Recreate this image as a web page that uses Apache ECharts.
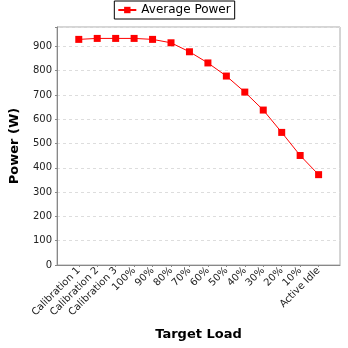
<!DOCTYPE html>
<html>
<head>
<meta charset="utf-8">
<script src="https://cdn.jsdelivr.net/npm/echarts@6/dist/echarts.min.js"></script>
<style>
  html, body { margin: 0; padding: 0; background: #fff; }
  #main { width: 348px; height: 348px; }
</style>
</head>
<body>
<div id="main"></div>
<script>
// target load steps, in the order they run
var categories = ['Calibration 1', 'Calibration 2', 'Calibration 3', '100%', '90%', '80%',
    '70%', '60%', '50%', '40%', '30%', '20%', '10%', 'Active Idle'];
var avgPower = [929, 933, 933, 933, 929, 915, 878, 832, 778, 712, 638, 546, 451, 372];
var yTicks = [0, 100, 200, 300, 400, 500, 600, 700, 800, 900];

var idx = categories.map(function (c, i) { return i; });

var myChart = echarts.init(document.getElementById('main'));

var option = {
    animation: false,
    textStyle: { fontFamily: 'DejaVu Sans' },
    legend: {
        top: 1,
        left: 'center',
        padding: [3, 4, 3, 3],
        borderColor: '#000',
        borderWidth: 1,
        itemWidth: 18,
        itemHeight: 8,
        itemGap: 4,
        textStyle: { fontSize: 12, color: '#000', fontFamily: 'DejaVu Sans' },
        data: ['Average Power']
    },
    grid: {
        left: 53, right: 8, top: 27, bottom: 83,
        show: true, borderColor: '#aaa', borderWidth: 1
    },
    xAxis: {
        type: 'value',
        min: -1.18,
        max: 14.16,
        name: 'Target Load',
        nameLocation: 'middle',
        nameGap: 63,
        nameTextStyle: { fontSize: 13, fontWeight: 'bold', color: '#000' },
        splitLine: { show: false },
        axisLine: { onZero: false, lineStyle: { color: '#888' } },
        axisTick: { customValues: idx, length: 2, lineStyle: { color: '#888' } },
        axisLabel: {
            customValues: idx,
            rotate: 45,
            fontSize: 10,
            color: '#222',
            margin: 4,
            formatter: function (v) { return categories[Math.round(v)]; }
        }
    },
    yAxis: {
        type: 'value',
        min: 0,
        max: 980,
        interval: 100,
        name: 'Power (W)',
        nameLocation: 'middle',
        nameGap: 36,
        nameTextStyle: { fontSize: 13, fontWeight: 'bold', color: '#000' },
        axisLine: { show: true, onZero: false, lineStyle: { color: '#888' } },
        axisTick: { show: true, length: 2, lineStyle: { color: '#888' } },
        axisLabel: {
            fontSize: 10, color: '#222', margin: 5,
            formatter: function (v) { return yTicks.indexOf(v) >= 0 ? String(v) : ''; }
        },
        splitLine: { lineStyle: { color: '#ddd', type: [3, 3] } }
    },
    series: [{
        name: 'Average Power',
        type: 'line',
        symbol: 'rect',
        symbolSize: 7,
        itemStyle: { color: '#ff0000' },
        lineStyle: { color: '#ff0000', width: 1 },
        data: avgPower.map(function (v, i) { return [i, v]; })
    }]
};

myChart.setOption(option);
</script>
</body>
</html>
